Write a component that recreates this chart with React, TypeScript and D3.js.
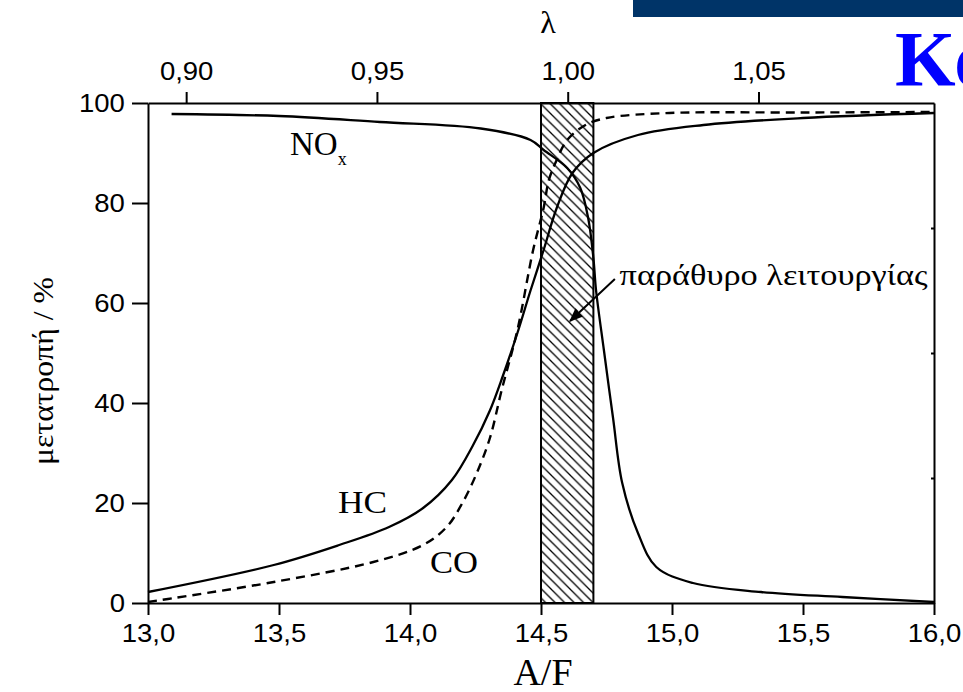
import React, { useRef, useEffect } from 'react';
import * as d3 from 'd3';

// A/F ratio vs conversion (%) for the three-way catalyst
const afHC = [13.0, 13.48, 13.73, 13.92, 14.05, 14.16, 14.24, 14.305, 14.355, 14.41, 14.46, 14.51, 14.56, 14.62, 14.7, 14.87, 15.12, 15.5, 16.0];
const hcValues = [2.2, 7.6, 11.6, 15.2, 19, 24.6, 31.5, 38.5, 45.5, 54, 62.5, 70.6, 79, 86, 90, 93.6, 95.6, 97, 98];

const afCO = [13.0, 13.1, 13.48, 13.86, 14.05, 14.14, 14.2, 14.255, 14.305, 14.35, 14.41, 14.47, 14.51, 14.53, 14.56, 14.6, 14.67, 14.75, 14.99, 15.5, 16.0];
const coValues = [0.2, 1, 4.2, 8.2, 11.6, 15.2, 20, 26, 33, 42.6, 54.6, 70.6, 79, 84.6, 88.6, 92.6, 95.6, 97, 98, 98.1, 98.2];

const afNOx = [13.09, 13.5, 13.885, 14.27, 14.46, 14.51, 14.6, 14.65, 14.68, 14.7, 14.71, 14.74, 14.775, 14.81, 14.87, 14.94, 15.08, 15.34, 15.65, 16.0];
const noxValues = [97.8, 97.4, 96.2, 94.9, 92.6, 90.6, 87, 83, 77, 69, 62.6, 50.6, 37, 24, 14, 7.2, 4, 2.2, 1.2, 0.2];

const afTicks = [13.0, 13.5, 14.0, 14.5, 15.0, 15.5, 16.0];
const lambdaTicks = [0.9, 0.95, 1.0, 1.05];
const yTicks = [0, 20, 40, 60, 80, 100];
const windowRange = [14.5, 14.7]; // operating window (A/F)

const W = 963;
const H = 692;
const margin = { top: 103, right: 28, bottom: 89, left: 148 };

const sansFont = '"Liberation Sans", Arial, sans-serif';
const serifFont = '"Liberation Serif", "Times New Roman", serif';

const App = () => {
  const svgRef = useRef<SVGSVGElement>(null);

  useEffect(() => {
    const svg = d3.select(svgRef.current);
    svg.selectAll('*').remove();

    const x = d3.scaleLinear().domain([13, 16]).range([margin.left, W - margin.right - 1]);
    const y = d3.scaleLinear().domain([0, 100]).range([H - margin.bottom, margin.top]);
    const lam = d3.scaleLinear().domain([0.89, 1.096]).range(x.range());

    const comma = (f) => (d) => d3.format(f)(d).replace('.', ',');

    // hatch pattern for the operating window
    const defs = svg.append('defs');
    defs
      .append('pattern')
      .attr('id', 'hatch')
      .attr('patternUnits', 'userSpaceOnUse')
      .attr('width', 9.5)
      .attr('height', 9.5)
      .append('path')
      .attr('d', 'M0,0 L9.5,9.5 M-2,7.5 L2,11.5 M7.5,-2 L11.5,2')
      .attr('stroke', '#000')
      .attr('stroke-width', 1.3);
    defs
      .append('marker')
      .attr('id', 'arrow')
      .attr('viewBox', '0 0 10 10')
      .attr('refX', 9)
      .attr('refY', 5)
      .attr('markerWidth', 7)
      .attr('markerHeight', 7)
      .attr('orient', 'auto')
      .append('path')
      .attr('d', 'M0,1 L10,5 L0,9 Z')
      .attr('fill', '#000');

    // header bar and cut-off title
    svg.append('rect').attr('x', 633).attr('y', 0).attr('width', W - 633).attr('height', 17).attr('fill', '#003468');
    svg
      .append('text')
      .attr('x', 895)
      .attr('y', 85)
      .attr('font-family', serifFont)
      .attr('font-weight', 'bold')
      .attr('font-size', 78)
      .attr('fill', '#0000ff')
      .text('Κα');

    // operating window
    svg
      .append('rect')
      .attr('x', x(windowRange[0]))
      .attr('y', y(100))
      .attr('width', x(windowRange[1]) - x(windowRange[0]))
      .attr('height', y(0) - y(100))
      .attr('fill', 'url(#hatch)')
      .attr('stroke', '#000')
      .attr('stroke-width', 2);

    const line = (xs, ys) =>
      d3
        .line()
        .x((_, i) => x(xs[i]))
        .y((d) => y(d))
        .curve(d3.curveCatmullRom.alpha(0.5))(ys);

    svg.append('path').attr('d', line(afNOx, noxValues)).attr('fill', 'none').attr('stroke', '#000').attr('stroke-width', 2.3);
    svg.append('path').attr('d', line(afHC, hcValues)).attr('fill', 'none').attr('stroke', '#000').attr('stroke-width', 2.3);
    svg
      .append('path')
      .attr('d', line(afCO, coValues))
      .attr('fill', 'none')
      .attr('stroke', '#000')
      .attr('stroke-width', 2.4)
      .attr('stroke-dasharray', '9,6');

    // axes
    const styleAxis = (g) => {
      g.select('.domain').attr('stroke', '#000').attr('stroke-width', 2);
      g.selectAll('.tick line').attr('stroke', '#000').attr('stroke-width', 2);
      g.selectAll('text').attr('font-family', sansFont).attr('font-size', 25).attr('fill', '#000');
    };

    const bottom = svg
      .append('g')
      .attr('transform', `translate(0,${y(0)})`)
      .call(d3.axisBottom(x).tickValues(afTicks).tickFormat(comma('.1f')).tickSize(12).tickSizeOuter(0).tickPadding(9));
    styleAxis(bottom);
    bottom.selectAll('text').attr('transform', 'scale(1.1,1)');

    const top = svg
      .append('g')
      .attr('transform', `translate(0,${y(100)})`)
      .call(d3.axisTop(lam).tickValues(lambdaTicks).tickFormat(comma('.2f')).tickSize(11).tickSizeOuter(0).tickPadding(12));
    styleAxis(top);
    top.selectAll('text').attr('transform', 'scale(1.1,1)');

    const left = svg
      .append('g')
      .attr('transform', `translate(${x(13)},0)`)
      .call(d3.axisLeft(y).tickValues(yTicks).tickSize(16).tickSizeOuter(0).tickPadding(7));
    styleAxis(left);
    left.selectAll('text').attr('x', -21).attr('transform', 'scale(1.1,1)');

    const right = svg
      .append('g')
      .attr('transform', `translate(${x(16)},0)`)
      .call(d3.axisLeft(y).tickValues([25, 50, 75]).tickSize(3).tickSizeOuter(0).tickFormat(() => ''));
    styleAxis(right);

    // axis titles
    svg
      .append('text')
      .attr('x', 548)
      .attr('y', 33)
      .attr('text-anchor', 'middle')
      .attr('font-family', serifFont)
      .attr('font-size', 32)
      .text('λ');
    svg
      .append('text')
      .attr('x', 543)
      .attr('y', 685)
      .attr('text-anchor', 'middle')
      .attr('font-family', serifFont)
      .attr('font-size', 38)
      .text('A/F');
    svg
      .append('text')
      .attr('transform', `translate(53,${(y(0) + y(100)) / 2 + 18}) rotate(-90)`)
      .attr('text-anchor', 'middle')
      .attr('font-family', serifFont)
      .attr('font-size', 29)
      .attr('textLength', 188)
      .attr('lengthAdjust', 'spacingAndGlyphs')
      .text('μετατροπή / %');

    // curve labels
    const nox = svg
      .append('text')
      .attr('x', x(13.542))
      .attr('y', y(89.6))
      .attr('font-family', serifFont)
      .attr('font-size', 33);
    nox.append('tspan').text('NO');
    nox.append('tspan').attr('font-size', 18).attr('dy', 10).text('x');

    svg
      .append('text')
      .attr('x', x(13.725))
      .attr('y', y(18))
      .attr('font-family', serifFont)
      .attr('font-size', 32)
      .attr('textLength', 49)
      .attr('lengthAdjust', 'spacingAndGlyphs')
      .text('HC');
    svg
      .append('text')
      .attr('x', x(14.076))
      .attr('y', y(6))
      .attr('font-family', serifFont)
      .attr('font-size', 32)
      .attr('textLength', 48)
      .attr('lengthAdjust', 'spacingAndGlyphs')
      .text('CO');

    svg
      .append('text')
      .attr('x', x(14.8))
      .attr('y', y(63.6))
      .attr('font-family', serifFont)
      .attr('font-size', 29)
      .attr('textLength', 308)
      .attr('lengthAdjust', 'spacingAndGlyphs')
      .text('παράθυρο λειτουργίας');
    svg
      .append('line')
      .attr('x1', x(14.782))
      .attr('y1', y(64.8))
      .attr('x2', x(14.611))
      .attr('y2', y(56.4))
      .attr('stroke', '#000')
      .attr('stroke-width', 2)
      .attr('marker-end', 'url(#arrow)');
  }, []);

  return (
    <svg
      ref={svgRef}
      width={W}
      height={H}
      style={{ position: 'absolute', left: 0, top: 0, background: '#fff' }}
    />
  );
};

export default App;
